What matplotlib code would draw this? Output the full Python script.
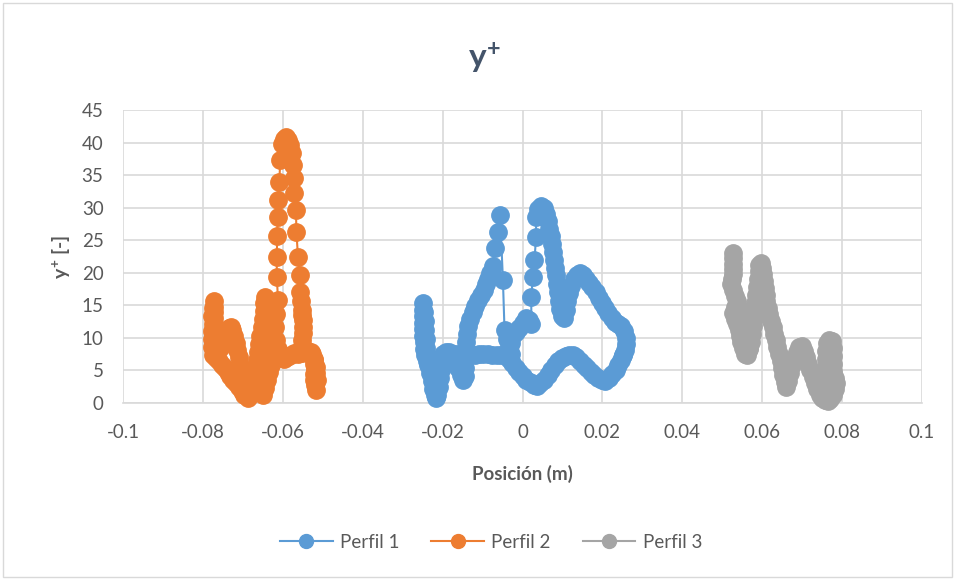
import matplotlib
matplotlib.use("Agg")
import matplotlib.pyplot as plt
from matplotlib.patches import Rectangle

plt.rcParams['font.family'] = ['Lato', 'DejaVu Sans']
plt.rcParams['mathtext.fontset'] = 'custom'
plt.rcParams['mathtext.rm'] = 'Lato:bold'
plt.rcParams['mathtext.bf'] = 'Lato:bold'
plt.rcParams['mathtext.it'] = 'Lato:bold'

# Perfil 1 (azul)
x_p1 = [0.0251, 0.0246, 0.0240, 0.0233, 0.0225, 0.0216, 0.0207, 0.0198, 0.0189, 0.0180,
        0.0171, 0.0162, 0.0153, 0.0144, 0.0135, 0.0126, 0.0117, 0.0108, 0.0099, 0.0090,
        0.0081, 0.0072, 0.0063, 0.0054, 0.0045, 0.0037, 0.0028, 0.0019, 0.0010, 0.0001,
        -0.0008, -0.0017, -0.0026, -0.0035, -0.0044, -0.0054, -0.0065, -0.0076, -0.0087, -0.0098,
        -0.0109, -0.0120, -0.0131, -0.0142, -0.0153, -0.0164, -0.0175, -0.0186, -0.0197, -0.0208,
        -0.0219, -0.0230, -0.0240,
        -0.0244, -0.0246, -0.0247, -0.0248, -0.0248, -0.0249, -0.0249, -0.0249, -0.0249,
        -0.0247, -0.0245, -0.0243, -0.0242, -0.0241, -0.0240, -0.0236, -0.0231,
        -0.0227, -0.0223, -0.0219, -0.0216, -0.0213, -0.0210, -0.0207, -0.0204, -0.0201, -0.0198,
        -0.0191, -0.0183, -0.0176, -0.0169, -0.0162, -0.0155, -0.0149, -0.0145,
        -0.0144, -0.0143, -0.0142, -0.0141, -0.0139, -0.0137, -0.0132, -0.0125, -0.0118, -0.0111,
        -0.0104, -0.0097, -0.0091, -0.0086, -0.0081,
        -0.0075, -0.0070, -0.0062, -0.0056, -0.0049, -0.0045,
        -0.0040, -0.0034, -0.0028, -0.0030, -0.0032, -0.0024, -0.0016, -0.0008, 0.0000, 0.0008,
        0.0016, 0.0022,
        0.0022, 0.0026, 0.0030, 0.0034, 0.0034, 0.0040, 0.0047, 0.0054, 0.0060, 0.0064,
        0.0067, 0.0071, 0.0074, 0.0077, 0.0079, 0.0081, 0.0083, 0.0086, 0.0089, 0.0092,
        0.0095, 0.0099, 0.0103,
        0.0108, 0.0112, 0.0117, 0.0122, 0.0129, 0.0136, 0.0143, 0.0151, 0.0159, 0.0167,
        0.0175, 0.0183, 0.0191, 0.0199, 0.0207, 0.0215, 0.0223, 0.0231, 0.0239, 0.0247,
        0.0253, 0.0258, 0.0259, 0.0256, 0.0251]
y_p1 = [7.4, 6.6, 5.9, 5.1, 4.4, 3.8, 3.4, 3.5, 3.9, 4.3,
        4.8, 5.3, 5.9, 6.5, 7.0, 7.4, 7.4, 7.2, 6.9, 6.4,
        5.8, 5.1, 4.3, 3.6, 3.0, 2.6, 2.8, 3.2, 3.6, 4.1,
        4.7, 5.4, 6.1, 6.8, 7.3, 7.4, 7.3, 7.4, 7.5, 7.6,
        7.5, 7.4, 7.3, 7.3, 7.4, 7.5, 7.6, 7.6, 7.2, 6.7,
        6.2, 6.0, 6.4,
        7.3, 8.3, 9.3, 10.3, 11.3, 12.3, 13.3, 14.3, 15.3,
        14.0, 12.6, 11.2, 9.8, 8.4, 7.0, 5.8, 4.6,
        3.4, 2.2, 1.2, 0.7, 1.3, 2.5, 3.8, 5.1, 6.4, 7.5,
        7.9, 7.8, 7.2, 6.3, 5.3, 4.3, 3.6, 4.2,
        5.4, 6.7, 8.0, 9.3, 10.6, 11.8, 12.9, 13.9, 14.9, 15.8,
        16.6, 17.4, 18.2, 19.0, 20.0,
        21.1, 23.8, 26.2, 28.8, 18.9, 11.2,
        9.8, 8.6, 7.6, 9.2, 10.2, 10.4, 10.9, 11.5, 12.3, 13.0,
        12.8, 12.2,
        16.3, 19.4, 22.0, 25.5, 28.6, 29.8, 30.2, 29.9, 29.0, 27.9,
        26.8, 25.6, 24.4, 23.2, 22.0, 20.8, 19.6, 18.3, 17.0, 15.7,
        14.4, 13.3, 13.0,
        14.3, 15.6, 16.9, 18.0, 19.0, 19.7, 19.9, 19.6, 19.1, 18.5,
        17.8, 17.0, 16.2, 15.4, 14.6, 13.8, 13.1, 12.5, 12.1, 11.8,
        11.0, 10.0, 9.0, 8.2, 7.4]

# Perfil 2 (naranja)
x_p2 = [-0.0690, -0.0694, -0.0698, -0.0702, -0.0706, -0.0710, -0.0714, -0.0718, -0.0722, -0.0726,
        -0.0730, -0.0735, -0.0740, -0.0746, -0.0752, -0.0758, -0.0764,
        -0.0770, -0.0772, -0.0771, -0.0772, -0.0773, -0.0773, -0.0773, -0.0773, -0.0772,
        -0.0775, -0.0776, -0.0775, -0.0776, -0.0776, -0.0776, -0.0775,
        -0.0768, -0.0760, -0.0752, -0.0745, -0.0738, -0.0731, -0.0724, -0.0717, -0.0710, -0.0703,
        -0.0696, -0.0688,
        -0.0682, -0.0678, -0.0674, -0.0671, -0.0668, -0.0665, -0.0662, -0.0659, -0.0656, -0.0653,
        -0.0650, -0.0648, -0.0646, -0.0644,
        -0.0641, -0.0640, -0.0640, -0.0641, -0.0642, -0.0643, -0.0645, -0.0646, -0.0647, -0.0648,
        -0.0649,
        -0.0644, -0.0639, -0.0634, -0.0629, -0.0624, -0.0616, -0.0607, -0.0598, -0.0589, -0.0580,
        -0.0571, -0.0562, -0.0553, -0.0544, -0.0535, -0.0527,
        -0.0523, -0.0521, -0.0520, -0.0521, -0.0522, -0.0520, -0.0517,
        -0.0514, -0.0516, -0.0518, -0.0521, -0.0530, -0.0542,
        -0.0552, -0.0551, -0.0550, -0.0550, -0.0550, -0.0551, -0.0551, -0.0555, -0.0558, -0.0558,
        -0.0562, -0.0566, -0.0567, -0.0572, -0.0572, -0.0574, -0.0578, -0.0582, -0.0587, -0.0593,
        -0.0598,
        -0.0601, -0.0606, -0.0609, -0.0612, -0.0613, -0.0614, -0.0615, -0.0615, -0.0612, -0.0617,
        -0.0620, -0.0617, -0.0613, -0.0616]
y_p2 = [1.6, 2.6, 3.7, 4.8, 5.9, 7.0, 8.1, 9.2, 10.3, 11.2,
        11.7, 11.5, 10.9, 10.1, 9.2, 8.4, 7.8,
        8.5, 9.4, 10.3, 11.2, 12.1, 13.0, 13.9, 14.8, 15.6,
        14.6, 13.4, 12.2, 11.0, 9.8, 8.6, 7.4,
        6.9, 6.4, 5.9, 5.4, 4.8, 4.2, 3.6, 3.0, 2.4, 1.8,
        1.2, 0.8,
        1.3, 2.2, 3.2, 4.3, 5.4, 6.6, 7.8, 9.0, 10.3, 11.6,
        12.9, 14.2, 15.4, 16.3,
        15.2, 13.8, 12.4, 11.0, 9.6, 8.2, 6.8, 5.4, 4.0, 2.6,
        1.2,
        2.3, 3.5, 4.7, 5.9, 7.0, 7.3, 7.0, 6.8, 7.0, 7.4,
        7.7, 7.6, 7.7, 7.9, 7.9, 7.6,
        6.8, 6.0, 5.2, 4.4, 3.6, 2.8, 2.0,
        3.6, 4.6, 5.6, 6.6, 7.8, 8.2,
        8.7, 9.6, 10.7, 11.7, 12.7, 13.5, 14.3, 15.6, 17.1, 19.7,
        22.5, 26.3, 29.6, 32.2, 34.5, 36.6, 38.4, 39.6, 40.4, 40.8,
        40.6,
        39.8, 37.3, 34.0, 31.2, 28.6, 25.6, 22.4, 19.4, 15.8, 13.6,
        11.7, 9.7, 8.3, 7.4]

# Perfil 3 (gris)
x_p3 = [0.0526, 0.0527, 0.0528, 0.0528, 0.0526, 0.0524, 0.0522, 0.0527, 0.0533, 0.0537,
        0.0533, 0.0528, 0.0532, 0.0538, 0.0542, 0.0545, 0.0547, 0.0551, 0.0557, 0.0563,
        0.0562, 0.0560, 0.0559, 0.0560, 0.0563, 0.0567, 0.0568, 0.0567, 0.0566,
        0.0568, 0.0571, 0.0574, 0.0577, 0.0579, 0.0581, 0.0583, 0.0585, 0.0587, 0.0589,
        0.0591, 0.0593, 0.0597, 0.0600,
        0.0603, 0.0605, 0.0607, 0.0609, 0.0610, 0.0614, 0.0618, 0.0622, 0.0626, 0.0630,
        0.0634, 0.0638, 0.0642, 0.0646, 0.0650, 0.0653, 0.0656, 0.0659,
        0.0664, 0.0669, 0.0674, 0.0680, 0.0686, 0.0693, 0.0700, 0.0705, 0.0710, 0.0715,
        0.0720, 0.0726, 0.0732, 0.0738, 0.0744, 0.0750, 0.0756,
        0.0758, 0.0758, 0.0759, 0.0759, 0.0759, 0.0760, 0.0762, 0.0768, 0.0775, 0.0777,
        0.0777, 0.0777, 0.0778, 0.0781, 0.0784, 0.0782, 0.0777, 0.0770, 0.0764]
y_p3 = [23.0, 22.2, 21.4, 20.6, 19.8, 19.0, 18.2, 17.3, 16.5, 15.7,
        14.7, 13.8, 12.9, 12.1, 11.2, 10.3, 9.4, 8.5, 7.6, 7.3,
        8.6, 10.0, 11.4, 12.8, 14.0, 12.9, 11.4, 9.9, 8.4,
        8.3, 9.4, 10.6, 11.8, 13.0, 14.2, 15.4, 16.6, 17.8, 19.0,
        20.2, 21.2, 21.5, 20.8,
        19.8, 18.8, 17.7, 16.6, 15.6, 14.6, 13.6, 12.6, 11.6, 10.6,
        9.6, 8.6, 7.5, 6.4, 5.3, 4.3, 3.3, 2.4,
        3.4, 4.6, 5.8, 6.9, 7.9, 8.6, 8.8, 8.0, 7.0, 6.0,
        5.0, 4.0, 3.0, 2.1, 1.3, 0.7, 0.4,
        1.6, 2.9, 4.2, 5.5, 6.8, 8.0, 9.2, 9.7, 9.5, 8.4,
        7.2, 6.0, 4.9, 3.9, 3.0, 2.1, 1.2, 0.6, 0.3]

x_ticks = [-0.1, -0.08, -0.06, -0.04, -0.02, 0, 0.02, 0.04, 0.06, 0.08, 0.1]
x_tick_labels = ['-0.1', '-0.08', '-0.06', '-0.04', '-0.02', '0',
                 '0.02', '0.04', '0.06', '0.08', '0.1']
y_ticks = [0, 5, 10, 15, 20, 25, 30, 35, 40, 45]

text_color = '#44546A'
tick_color = '#595959'

fig = plt.figure(figsize=(9.57, 5.79), dpi=100)
ax = fig.add_axes([123 / 957, 1 - 403 / 579, 799 / 957, 293 / 579])

series = [(x_p1, y_p1, '#5B9BD5', 'Perfil 1'),
          (x_p2, y_p2, '#ED7D31', 'Perfil 2'),
          (x_p3, y_p3, '#A5A5A5', 'Perfil 3')]
for xs, ys, c, name in series:
    ax.plot(xs, ys, color=c, lw=1.5, marker='o', ms=12.5,
            mfc=c, mec=c, label=name, clip_on=False, zorder=3)

ax.set_xlim(-0.1, 0.1)
ax.set_ylim(0, 45)
ax.set_xticks(x_ticks)
ax.set_xticklabels(x_tick_labels)
ax.set_yticks(y_ticks)
ax.grid(True, color='#D9D9D9', lw=1.2, zorder=0)
ax.set_axisbelow(True)
for s in ['top', 'right', 'left']:
    ax.spines[s].set_visible(False)
ax.spines['bottom'].set_color('#D9D9D9')
ax.spines['bottom'].set_linewidth(1.2)
ax.tick_params(length=0, labelsize=13.5, labelcolor=tick_color)
ax.tick_params(axis='y', pad=14)
ax.tick_params(axis='x', pad=15)

ax.set_xlabel('Posición (m)', fontsize=13.5, fontweight='bold',
              color=tick_color, labelpad=17)
ax.set_ylabel('$y^{+}$ [-]', fontsize=14, fontweight='bold',
              color=tick_color, labelpad=6)

fig.text(485 / 957, 1 - 58 / 579, '$y^{+}$', fontsize=24, fontweight='bold',
         color=text_color, ha='center', va='center')

leg = fig.legend(loc='center', bbox_to_anchor=(491 / 957, 1 - 542 / 579),
                 ncol=3, frameon=False, fontsize=13.5, handlelength=2.8,
                 handletextpad=0.4, columnspacing=1.7, markerscale=0.8)
for t in leg.get_texts():
    t.set_color(tick_color)

fig.patches.append(Rectangle((3 / 957, 2 / 579), 949 / 957, 574 / 579,
                             transform=fig.transFigure, fill=False,
                             edgecolor='#D9D9D9', lw=1))

fig.savefig('out.png', dpi=100)
